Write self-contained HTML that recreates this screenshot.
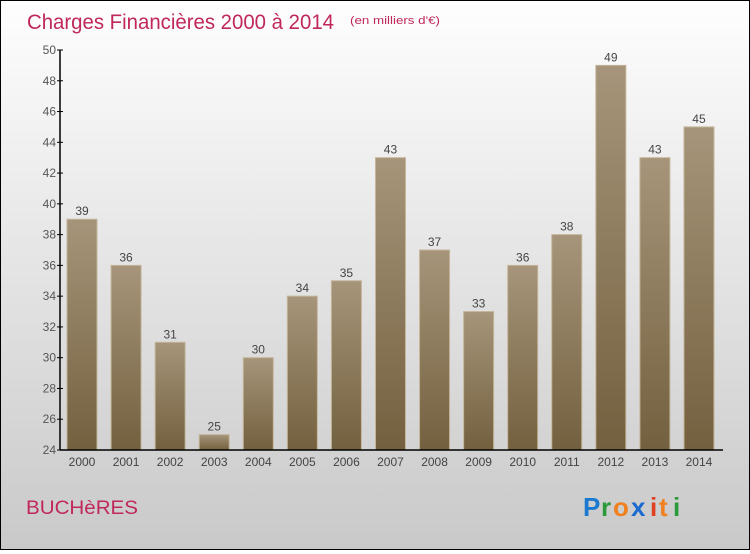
<!DOCTYPE html>
<html><head><meta charset="utf-8"><style>
body{margin:0}
#c{width:748px;height:548px;border:1px solid #000;background:linear-gradient(#fefefe,#c9c9c9);position:relative;font-family:"Liberation Sans",sans-serif}
</style></head><body>
<div id="c">
<svg id="s" width="748" height="548">
<defs><linearGradient id="g" x1="0" y1="0" x2="0" y2="1"><stop offset="0" stop-color="#a6957a"/><stop offset="1" stop-color="#73603f"/></linearGradient></defs>
<text x="26" y="28" font-size="21" fill="#c0285a" textLength="307" lengthAdjust="spacingAndGlyphs">Charges Financières 2000 à 2014</text>
<text x="349" y="23" font-size="11" fill="#c0285a" textLength="90" lengthAdjust="spacingAndGlyphs">(en milliers d'€)</text>
<text x="25" y="513" font-size="19" fill="#c0285a" textLength="112" lengthAdjust="spacingAndGlyphs">BUCHèRES</text>
<g font-size="26" font-weight="bold"><text x="582" y="515" fill="#1a7ad0">P</text><text x="600" y="515" fill="#2a9a3a">r</text><text x="612" y="515" fill="#f08020">o</text><text x="630" y="515" fill="#1a6ad0">x</text><text x="649" y="515" fill="#e04020">i</text><text x="658" y="515" fill="#f08020">t</text><text x="672" y="515" fill="#2a9a3a">i</text></g>
</svg></div>
<script>
const years=["2000","2001","2002","2003","2004","2005","2006","2007","2008","2009","2010","2011","2012","2013","2014"];
const values=[39,36,31,25,30,34,35,43,37,33,36,38,49,43,45];
const yTicks=[24,26,28,30,32,34,36,38,40,42,44,46,48,50];
const s=document.getElementById('s');const NS='http://www.w3.org/2000/svg';
const x0=59,y0=449,yMin=24,yMax=50,ppu=400/26;
const y=v=>y0-(v-yMin)*ppu;const xc=i=>81+i*44.07;
function el(t,a,p){const e=document.createElementNS(NS,t);for(const k in a)e.setAttribute(k,a[k]);(p||s).appendChild(e);return e;}
yTicks.forEach(v=>{const l=el('line',{x1:x0-3,x2:x0+3,y1:y(v),y2:y(v),stroke:'#000'});


const t=el('text',{x:x0-4,y:y(v)+4,'font-size':12,fill:'#555','text-anchor':'end'});t.textContent=v;

});
values.forEach((v,i)=>{const r=el('rect',{x:xc(i)-15,y:y(v),width:30,height:y0-y(v),fill:'url(#g)',stroke:'#c4b59a','stroke-width':1});


const t=el('text',{x:xc(i),y:y(v)-4,'font-size':12,fill:'#444','text-anchor':'middle'});t.textContent=v;


const xt=el('text',{x:xc(i),y:465,'font-size':12,fill:'#444','text-anchor':'middle'});xt.textContent=years[i];

});
const ya=el('line',{x1:x0,x2:x0,y1:y(50),y2:y0,stroke:'#000','stroke-width':1.5});


const xa=el('line',{x1:x0,x2:722,y1:y0,y2:y0,stroke:'#000','stroke-width':1.5});


</script></body></html>
